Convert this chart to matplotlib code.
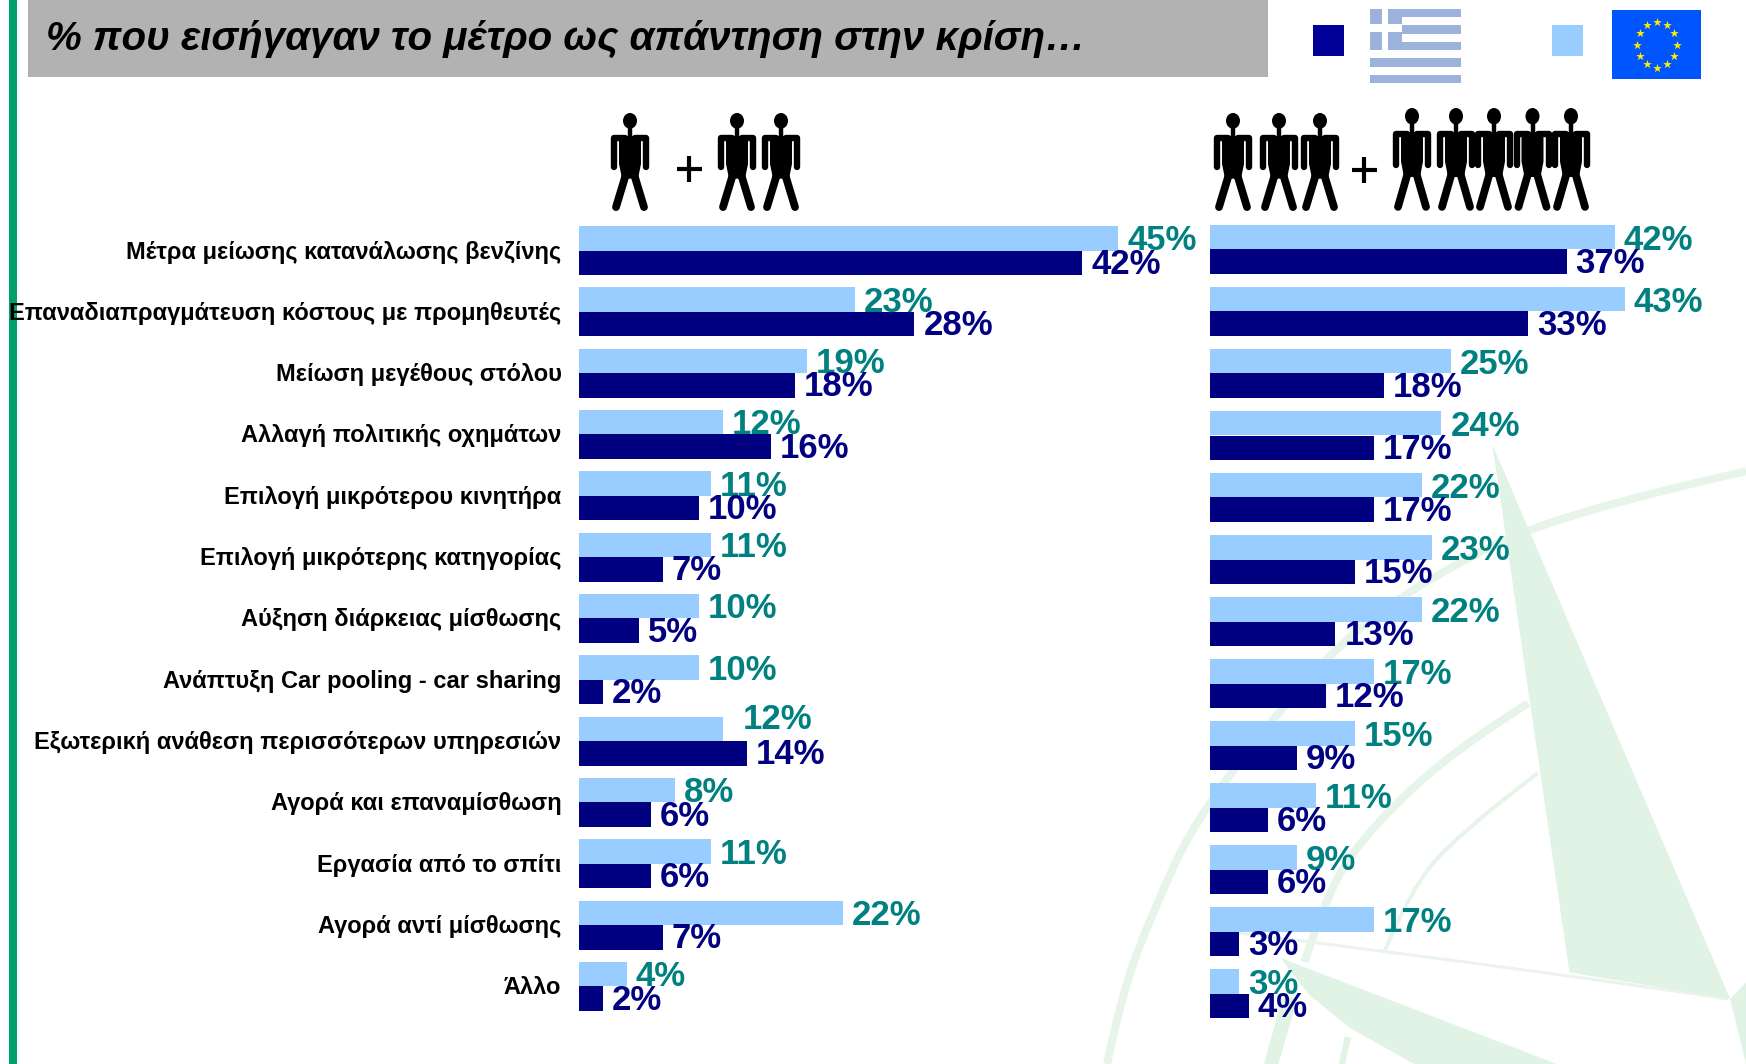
import numpy as np
import matplotlib
matplotlib.use("Agg")
import matplotlib.pyplot as plt
from matplotlib.path import Path
from matplotlib.patches import PathPatch, Polygon, Rectangle, Ellipse

plt.rcParams['font.family'] = ['Liberation Sans', 'DejaVu Sans']

# ---------- data ----------
categories = [
    "Μέτρα μείωσης κατανάλωσης βενζίνης",
    "Επαναδιαπραγμάτευση κόστους με προμηθευτές",
    "Μείωση μεγέθους στόλου",
    "Αλλαγή πολιτικής οχημάτων",
    "Επιλογή μικρότερου κινητήρα",
    "Επιλογή μικρότερης κατηγορίας",
    "Αύξηση διάρκειας μίσθωσης",
    "Ανάπτυξη Car pooling - car sharing",
    "Εξωτερική ανάθεση περισσότερων υπηρεσιών",
    "Αγορά και επαναμίσθωση",
    "Εργασία από το σπίτι",
    "Αγορά αντί μίσθωσης",
    "Άλλο",
]
small_eu = [45, 23, 19, 12, 11, 11, 10, 10, 12, 8, 11, 22, 4]
small_gr = [42, 28, 18, 16, 10, 7, 5, 2, 14, 6, 6, 7, 2]
large_eu = [42, 43, 25, 24, 22, 23, 22, 17, 15, 11, 9, 17, 3]
large_gr = [37, 33, 18, 17, 17, 15, 13, 12, 9, 6, 6, 3, 4]
title = "% που εισήγαγαν το μέτρο ως απάντηση στην κρίση…"

# ---------- styles ----------
W, H = 1746, 1064
NAVY, LIGHT = "#000080", "#99CCFF"
TEAL = "#008080"
WM = "#E0F3E4"
WM_ARC = "#E7F4E9"
WM_THIN = "#EBF3ED"

fig = plt.figure(figsize=(W / 100, H / 100), dpi=100, facecolor="white")

# ---------- decoration layer, in pixel coordinates ----------
bg = fig.add_axes([0, 0, 1, 1], zorder=0)
bg.set_xlim(0, W)
bg.set_ylim(H, 0)
bg.axis("off")


def z(x, y):
    return (1000 + x / 2.102, 420 + y / 2.435)


def curve(points, width, color=WM_ARC):
    pts = [z(*p) for p in points]
    verts, codes = [pts[0]], [Path.MOVETO]
    for i in range(1, len(pts) - 1):
        mid = pts[i] if i == len(pts) - 2 else (
            (pts[i][0] + pts[i + 1][0]) / 2, (pts[i][1] + pts[i + 1][1]) / 2)
        verts += [pts[i], mid if i < len(pts) - 2 else pts[i + 1]]
        codes += [Path.CURVE3, Path.CURVE3]
    bg.add_patch(PathPatch(Path(verts, codes), fc="none", ec=color,
                           lw=width * 0.72, capstyle="butt", zorder=1))


def poly(points, color=WM):
    bg.add_patch(Polygon([z(*p) for p in points], closed=True, fc=color, ec="none", zorder=1))


# watermark compass
curve([(225, 1568), (255, 1400), (320, 1200), (420, 950), (700, 550),
       (905, 380), (1180, 225), (1568, 125)], 8)
curve([(640, 1320), (680, 1180), (740, 1050), (860, 900), (1000, 770), (1110, 690)], 8)
curve([(1380, 560), (1568, 510)], 10)
curve([(810, 1290), (860, 1150), (960, 1010), (1130, 860)], 4)
curve([(1470, 700), (1568, 680)], 4)
curve([(580, 560), (970, 1000)], 3, WM_THIN)
curve([(440, 1240), (1200, 1350), (1530, 1410)], 3, WM_THIN)
curve([(1045, 60), (1568, 880)], 3, WM_THIN)
poly([(1035, 60), (1197, 1345), (1535, 1410)])
poly([(590, 1310), (1170, 1568), (870, 1568), (735, 1480), (650, 1400)])
poly([(595, 1400), (625, 1410), (585, 1568), (555, 1568)])
poly([(725, 1500), (738, 1505), (725, 1568), (712, 1568)])
poly([(1535, 1410), (1568, 1370), (1568, 1568)])

# green side stripe and title band
bg.add_patch(Rectangle((9, 0), 8, H, fc="#00A06B", ec="none", zorder=2))
bg.add_patch(Rectangle((28, 0), 1240, 77, fc="#B2B2B2", ec="none", zorder=2))
bg.text(46, 50, title, fontsize=29, fontweight="bold", fontstyle="italic",
        color="black", ha="left", va="baseline", zorder=3)

# legend swatches
bg.add_patch(Rectangle((1313, 25), 31, 31, fc="#000099", ec="none", zorder=2))
bg.add_patch(Rectangle((1552, 25), 31, 31, fc=LIGHT, ec="none", zorder=2))

# Greek flag
FLAG_BLUE = "#9DB2DA"
fx0, fx1, fy0, step = 1370, 1461, 9, 74 / 9
for s in range(0, 9, 2):
    bg.add_patch(Rectangle((fx0, fy0 + s * step), fx1 - fx0, step, fc=FLAG_BLUE, ec="none", zorder=2))
bg.add_patch(Rectangle((fx0, fy0), 32, 5 * step, fc=FLAG_BLUE, ec="none", zorder=2))
bg.add_patch(Rectangle((1382, fy0), 6, 5 * step, fc="white", ec="none", zorder=3))
bg.add_patch(Rectangle((fx0, 24), 32, 8, fc="white", ec="none", zorder=3))

# EU flag
bg.add_patch(Rectangle((1612, 10), 89, 69, fc="#0055FF", ec="none", zorder=2))
ang = np.deg2rad(np.arange(0, 360, 30))
bg.scatter(1657 + 20 * np.cos(ang), 44.5 + 23 * np.sin(ang), marker="*", s=42,
           c="#FFEE00", linewidths=0, zorder=3)


def person(cx, top, bottom=211):
    h = bottom - top
    k = dict(color="black", solid_capstyle="round", zorder=3)
    y = lambda f: top + f * h
    bg.add_patch(Ellipse((cx, y(0.08)), 14, 0.16 * h, fc="black", ec="none", zorder=3))
    bg.plot([cx, cx], [y(0.1), y(0.26)], lw=3.2, color="black", zorder=3)
    bg.add_patch(Polygon([(cx - 11, y(0.235)), (cx + 11, y(0.235)), (cx + 11, y(0.52)),
                          (cx + 8, y(0.67)), (cx - 8, y(0.67)), (cx - 11, y(0.52))],
                         closed=True, fc="black", ec="none", zorder=3))
    for sgn in (-1, 1):
        bg.plot([cx + sgn * 5, cx + sgn * 16, cx + sgn * 16],
                [y(0.255), y(0.255), y(0.55)], lw=4.6, **k)
        bg.plot([cx + sgn * 4.5, cx + sgn * 14], [y(0.64), y(0.96)], lw=5.6, **k)


def plus(cx, cy):
    bg.plot([cx - 12.5, cx + 12.5], [cy, cy], lw=3, color="black", solid_capstyle="butt", zorder=3)
    bg.plot([cx, cx], [cy - 13, cy + 13], lw=3, color="black", solid_capstyle="butt", zorder=3)


for cx in (630, 737, 781):
    person(cx, 113)
plus(689, 169)
for cx in (1233, 1279, 1320):
    person(cx, 113)
plus(1364, 170)
for cx in (1412, 1456, 1494, 1532.5, 1571):
    person(cx, 108)


# ---------- charts ----------
def panel(x0, px_per_unit, y0, pitch, eu, gr, eu_lift=1, nudges=None):
    xmax = 50
    top = y0 - pitch / 2
    height = pitch * len(eu)
    ax = fig.add_axes([x0 / W, 1 - (top + height) / H, xmax * px_per_unit / W, height / H],
                      zorder=1)
    ax.patch.set_alpha(0)
    ax.set_xlim(0, xmax)
    ax.set_ylim(len(eu) - 0.5, -0.5)
    ax.axis("off")
    ypos = np.arange(len(eu))
    bh = 24.5 / pitch
    ax.barh(ypos - bh / 2, eu, height=bh, color=LIGHT, zorder=2)
    ax.barh(ypos + bh / 2, gr, height=bh, color=NAVY, zorder=3)
    nudges = nudges or {}
    common = dict(textcoords="offset points", fontsize=25, fontweight="bold",
                  ha="left", va="center_baseline", annotation_clip=False)
    for i, v in enumerate(eu):
        dx, dy = nudges.get(i, (0, 0))
        ax.annotate(f"{v}%", (v, i - bh / 2), xytext=((9 + dx) * 0.72, (eu_lift - dy) * 0.72),
                    color=TEAL, zorder=4, **common)
    for i, v in enumerate(gr):
        ax.annotate(f"{v}%", (v, i + bh / 2), xytext=(9 * 0.72, 2 * 0.72),
                    color=NAVY, zorder=5, **common)
    return ax


left = panel(579, 11.98, 250.5, 61.33, small_eu, small_gr, nudges={8: (11, -12)})
right = panel(1210, 9.64, 249.5, 62, large_eu, large_gr, eu_lift=0)

for i, label in enumerate(categories):
    left.annotate(label, (0, i), xytext=(-17.5 * 0.72, -1.5 * 0.72), textcoords="offset points",
                  ha="right", va="center", fontsize=17, fontweight="bold", color="black",
                  annotation_clip=False, zorder=6)

fig.savefig("out.png", dpi=100, facecolor="white")
